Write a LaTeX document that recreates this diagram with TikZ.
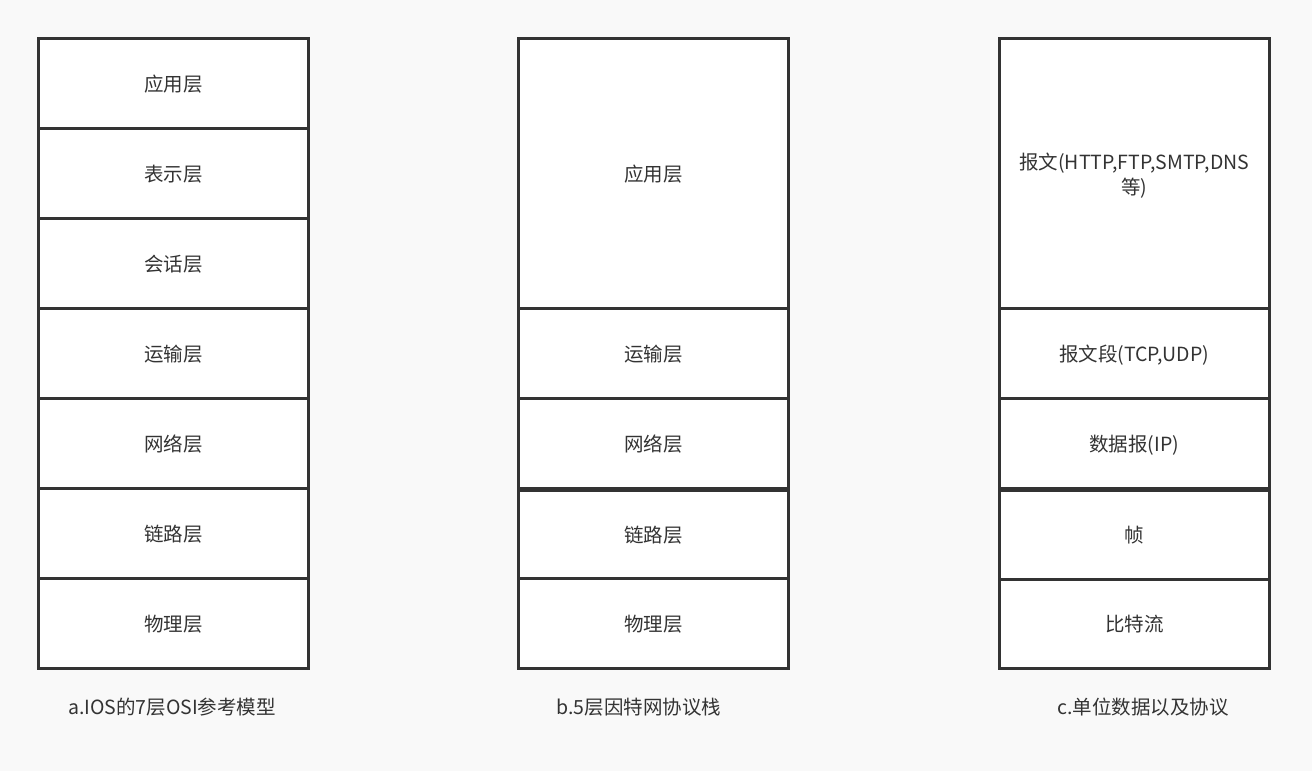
\documentclass[tikz,border=0pt]{standalone}
\usepackage{fontspec}
\setmainfont{Noto Sans CJK SC}
\definecolor{bg}{HTML}{F9F9F9}
\definecolor{ink}{HTML}{333333}
\tikzset{
  layer/.style={draw=ink, line width=2.5pt, fill=white, anchor=north west, inner sep=0pt,
    minimum width=270pt, text=ink, font=\fontsize{19.5pt}{25pt}\selectfont, align=center,
    text depth=-3pt},
  caption/.style={text=ink, font=\fontsize{19.5pt}{25pt}\selectfont, inner sep=0pt}
}
\begin{document}
\begin{tikzpicture}[x=1pt,y=-1pt]
\fill[bg] (0,0) rectangle (1312,771);
\useasboundingbox (0,0) rectangle (1312,771);
% column a
\node[layer, minimum height=90pt] (a1) at (37,37) {应用层};
\node[layer, minimum height=90pt] (a2) at (37,127) {表示层};
\node[layer, minimum height=90pt] (a3) at (37,217) {会话层};
\node[layer, minimum height=90pt] (a4) at (37,307) {运输层};
\node[layer, minimum height=90pt] (a5) at (37,397) {网络层};
\node[layer, minimum height=90pt] (a6) at (37,487) {链路层};
\node[layer, minimum height=90pt] (a7) at (37,577) {物理层};
% column b
\node[layer, minimum height=270pt] (b1) at (517,37) {应用层};
\node[layer, minimum height=90pt] (b2) at (517,307) {运输层};
\node[layer, minimum height=90pt] (b3) at (517,397) {网络层};
\node[layer, minimum height=88pt] (b4) at (517,489) {链路层};
\node[layer, minimum height=90pt] (b5) at (517,577) {物理层};
% column c
\node[layer, minimum height=270pt, text depth=-14pt] (c1) at (998,37) {报文(HTTP,FTP,SMTP,DNS\\等)};
\node[layer, minimum height=90pt] (c2) at (998,307) {报文段(TCP,UDP)};
\node[layer, minimum height=90pt] (c3) at (998,397) {数据报(IP)};
\node[layer, minimum height=89pt] (c4) at (998,489) {帧};
\node[layer, minimum height=89pt] (c5) at (998,578) {比特流};
% captions
\node[caption] (la) at (172,707) {a.IOS的7层OSI参考模型};
\node[caption] (lb) at (639,707) {b.5层因特网协议栈};
\node[caption] (lc) at (1143,707) {c.单位数据以及协议};
\end{tikzpicture}
\end{document}
